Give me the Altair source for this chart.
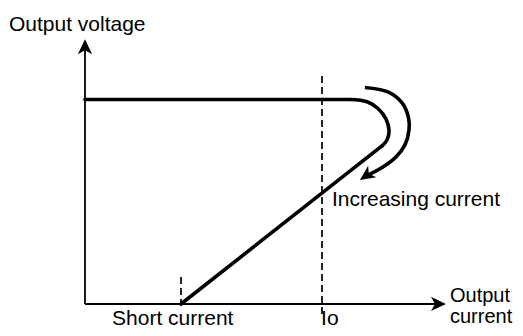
import altair as alt
import pandas as pd

# Foldback characteristic (current in % of Io, voltage in % of set output voltage)
# straight parts: constant-voltage line and the fold-back diagonal to the short current
straight_segment = ["cv", "cv", "fold", "fold"]
straight_current = [0, 111.8, 125.3, 40.5]
straight_voltage = [100, 100, 77.3, 0]

# rounded bend between them
bend_current = [111.8, 119.0, 123.6, 127.0, 128.3, 127.4, 125.3]
bend_voltage = [100.0, 98.9, 95.6, 90.5, 84.6, 80.2, 77.3]

# Curved "increasing current" arrow
arrow_current = [118.1, 127.8, 133.8, 136.5, 136.7, 135.0, 131.2, 125.7, 119.8]
arrow_voltage = [105.9, 103.7, 98.3, 91.0, 85.1, 77.8, 71.9, 67.0, 63.3]

# Arrow heads: y-axis tip, x-axis tip, curved arrow tip
head_current = [0, 152.3, 116.0]
head_voltage = [129.4, 0, 60.6]
head_angle = [0, 90, 235]

# Axis lines (end under the arrow heads)
axis_current_start = [0, 0]
axis_current_end = [0, 150.0]
axis_voltage_start = [0, 0]
axis_voltage_end = [127.0, 0]

# Dashed markers: Io and short current
marker_current = [100, 40.5]
marker_top = [111.5, 13.2]
marker_bottom = [-5.4, -2.9]

# Labels
label_text = ["Output voltage", "Short current", "Io", "Increasing current"]
label_current = [-32.1, 11.4, 99.6, 104.2]
label_voltage = [133.5, -10.4, -10.4, 47.9]

out_text = ["Output\ncurrent"]
out_current = [154.0]
out_voltage = [1.0]

xs = alt.Scale(domain=[-32.49, 181.43], nice=False, zero=False)
ys = alt.Scale(domain=[-11.74, 144.74], nice=False, zero=False)

straight_df = pd.DataFrame({"s": straight_segment, "i": straight_current, "v": straight_voltage})
bend_df = pd.DataFrame({"i": bend_current, "v": bend_voltage, "o": range(len(bend_current))})
arrow_df = pd.DataFrame({"i": arrow_current, "v": arrow_voltage, "o": range(len(arrow_current))})
head_df = pd.DataFrame({"i": head_current, "v": head_voltage, "a": head_angle})
axis_df = pd.DataFrame({"i": axis_current_start, "i2": axis_current_end,
                        "v": axis_voltage_start, "v2": axis_voltage_end})
marker_df = pd.DataFrame({"i": marker_current, "v": marker_top, "v2": marker_bottom})
label_df = pd.DataFrame({"t": label_text, "i": label_current, "v": label_voltage})
out_df = pd.DataFrame({"t": out_text, "i": out_current, "v": out_voltage})

X = alt.X("i:Q", scale=xs, axis=None)
Y = alt.Y("v:Q", scale=ys, axis=None)

axes = alt.Chart(axis_df).mark_rule(color="black", strokeWidth=1.8).encode(
    x=X, x2="i2:Q", y=Y, y2="v2:Q")

markers = alt.Chart(marker_df).mark_rule(color="black", strokeWidth=1.7, strokeDash=[7, 4]).encode(
    x=X, y=Y, y2="v2:Q")

straight = alt.Chart(straight_df).mark_line(color="black", strokeWidth=3.6, strokeCap="round").encode(
    x=X, y=Y, detail="s:N", order=alt.Order("i:Q"))

bend = alt.Chart(bend_df).mark_line(color="black", strokeWidth=3.6, strokeCap="round",
                                    interpolate="catmull-rom").encode(
    x=X, y=Y, order="o:Q")

arrow = alt.Chart(arrow_df).mark_line(color="black", strokeWidth=3.6, interpolate="catmull-rom").encode(
    x=X, y=Y, order="o:Q")

ARROW_PATH = "M0,0 L0.95,2 L0,1.45 L-0.95,2 Z"
heads = alt.Chart(head_df).mark_point(
    shape=ARROW_PATH, filled=True, size=225, color="black", opacity=1, strokeWidth=0
).encode(x=X, y=Y, angle=alt.Angle("a:Q", scale=None))

labels = alt.Chart(label_df).mark_text(
    align="left", baseline="alphabetic", font="Liberation Sans", fontSize=21, color="black"
).encode(x=X, y=Y, text="t:N")

out_label = alt.Chart(out_df).mark_text(
    align="left", baseline="alphabetic", font="Liberation Sans", fontSize=20,
    lineBreak="\n", lineHeight=21, color="black"
).encode(x=X, y=Y, text="t:N")

chart = alt.layer(axes, markers, straight, bend, arrow, heads, labels, out_label).properties(
    width=507, height=320, padding=0, autosize=alt.AutoSizeParams(type="none"),
    background="white"
).configure_view(stroke=None)

chart.save("out.html", embed_options={"renderer": "svg", "actions": False})
